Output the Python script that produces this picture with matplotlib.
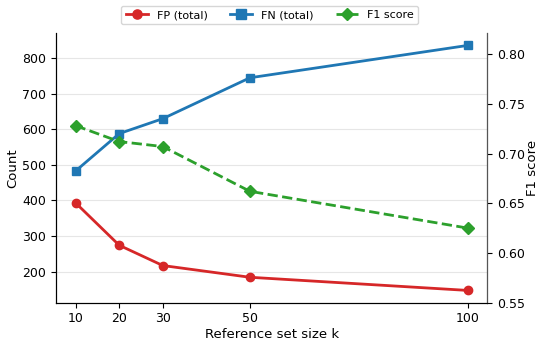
import matplotlib
matplotlib.use("Agg")
import matplotlib.pyplot as plt

# reference set sizes and error counts / F1
k_values = [10, 20, 30, 50, 100]
fp_total = [393, 274, 217, 184, 147]
fn_total = [483, 588, 630, 745, 836]
f1_score = [0.728, 0.712, 0.707, 0.662, 0.625]

fig, ax = plt.subplots(figsize=(5.39, 3.42), dpi=100)
ax2 = ax.twinx()

l1, = ax.plot(k_values, fp_total, color="#d62728", marker="o", lw=2, ms=6, label="FP (total)")
l2, = ax.plot(k_values, fn_total, color="#1f77b4", marker="s", lw=2, ms=6, label="FN (total)")
l3, = ax2.plot(k_values, f1_score, color="#2ca02c", marker="D", ls="--", lw=2, ms=6, label="F1 score")

ax.set_xticks(k_values)
ax.set_xlabel("Reference set size k", fontsize=9.5, labelpad=2)
ax.set_ylabel("Count", fontsize=9.5, labelpad=2)
ax2.set_ylabel("F1 score", fontsize=9.5, labelpad=1)
ax2.set_ylim(0.55, 0.821)
for a in (ax, ax2):
    a.tick_params(labelsize=9)
    a.spines["top"].set_visible(False)
ax.grid(axis="y", color="#e6e6e6", lw=0.8)
ax.set_axisbelow(True)
ax2.spines["right"].set_color("#555555")

fig.legend(handles=[l1, l2, l3], loc="upper center", ncol=3, fontsize=8,
           markerscale=1.1, bbox_to_anchor=(0.5, 1.0), frameon=True, edgecolor="#cccccc")

fig.subplots_adjust(left=0.104, right=0.904, top=0.903, bottom=0.115)
fig.savefig("out.png", dpi=100)
